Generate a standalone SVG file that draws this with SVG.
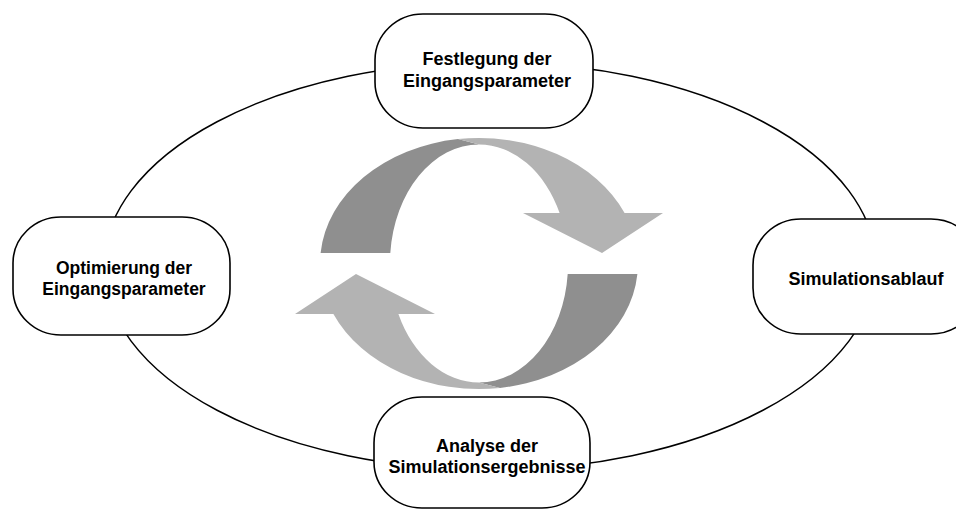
<svg xmlns="http://www.w3.org/2000/svg" xmlns:xlink="http://www.w3.org/1999/xlink" width="956" height="510" viewBox="0 0 956 510">
  <style>
    .node { fill: #ffffff; stroke: #000000; stroke-width: 1.6; }
    .ring { fill: none; stroke: #000000; stroke-width: 1.5; }
    .lbl { font-family: "Liberation Sans", Arial, sans-serif; font-weight: bold; fill: #000000; text-anchor: middle; font-size: 18px; }
    .dark { fill: #8f8f8f; }
    .light { fill: #b3b3b3; }
  </style>
  <defs>
    <g id="halfArrow">
      <path class="dark" d="M320.6,253 A159,125.5 0 0 1 458,139.1 L479,144.5 A89,119 0 0 0 390.3,253 Z"/>
      <path class="light" d="M458,139.1 A159,125.5 0 0 1 624.6,213 L663,213 L602,253 L523,213 L559.6,213 A89,119 0 0 0 479,144.5 Z"/>
    </g>
  </defs>
  <rect width="956" height="510" fill="#ffffff"/>
  <g id="connectors">
    <ellipse class="ring" cx="490" cy="266" rx="386" ry="204"/>
  </g>
  <g id="cycle-arrows">
    <use xlink:href="#halfArrow"/>
    <use xlink:href="#halfArrow" transform="rotate(180 479 263.5)"/>
  </g>
  <g id="node-festlegung">
    <rect class="node" x="375" y="14" width="218" height="114" rx="48" ry="46"/>
    <text class="lbl" x="487" y="65">Festlegung der</text>
    <text class="lbl" x="487" y="87">Eingangsparameter</text>
  </g>
  <g id="node-simulationsablauf">
    <rect class="node" x="753" y="219" width="226" height="115" rx="48" ry="46"/>
    <text class="lbl" x="866" y="285">Simulationsablauf</text>
  </g>
  <g id="node-analyse">
    <rect class="node" x="374" y="397" width="216" height="111" rx="48" ry="46"/>
    <text class="lbl" x="487" y="452">Analyse der</text>
    <text class="lbl" x="487" y="473">Simulationsergebnisse</text>
  </g>
  <g id="node-optimierung">
    <rect class="node" x="13" y="217" width="217" height="118" rx="48" ry="46"/>
    <text class="lbl" style="font-size:17.5px" x="124" y="274">Optimierung der</text>
    <text class="lbl" style="font-size:17.5px" x="124" y="295">Eingangsparameter</text>
  </g>
</svg>
